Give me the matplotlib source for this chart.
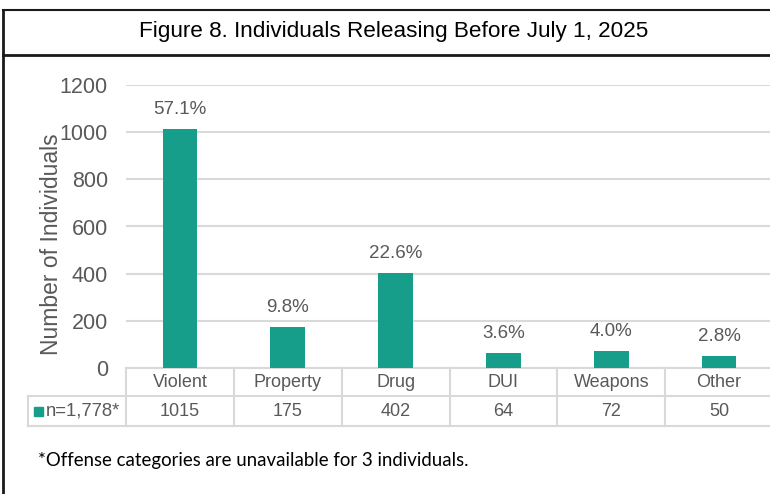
import matplotlib
matplotlib.use("Agg")
import matplotlib.pyplot as plt
from matplotlib.lines import Line2D
from matplotlib.patches import Rectangle
import matplotlib.transforms as mtransforms

categories = ["Violent", "Property", "Drug", "DUI", "Weapons", "Other"]
counts = [1015, 175, 402, 64, 72, 50]
pct_labels = ["57.1%", "9.8%", "22.6%", "3.6%", "4.0%", "2.8%"]
yticks = [0, 200, 400, 600, 800, 1000, 1200]
series_name = "n=1,778*"
title = "Figure 8. Individuals Releasing Before July 1, 2025"
ylabel = "Number of Individuals"
footnote = "*Offense categories are unavailable for 3 individuals."

W, H = 770, 494
BAR = "#169E8B"
GRID = "#D9D9D9"
TXT = "#595959"

plt.rcParams['font.family'] = ['Liberation Sans', 'DejaVu Sans']
fig = plt.figure(figsize=(W / 100, H / 100), dpi=100)

def fx(px):
    return px / W

def fy(py):
    return 1 - py / H

# axes: x 126..773 px, y 85..368 px
ax_l, ax_r, ax_t, ax_b = 126, 773, 85, 368
ax = fig.add_axes([fx(ax_l), fy(ax_b), fx(ax_r - ax_l), (ax_b - ax_t) / H])
x = list(range(len(categories)))
ax.bar(x, counts, width=0.32, color=BAR, zorder=3)
ax.set_xlim(-0.5, len(categories) - 0.5)
ax.set_ylim(0, 1200)
ax.set_yticks(yticks)
ax.set_yticklabels([str(v) for v in yticks], fontsize=15.5, color=TXT)
ax.tick_params(axis='y', length=0, pad=13)
ax.set_xticks([])
ax.yaxis.grid(True, color=GRID, linewidth=1.5, zorder=0)
for s in ax.spines.values():
    s.set_visible(False)
ax.set_ylabel(ylabel, fontsize=16.5, color=TXT, va='center')
ax.yaxis.set_label_coords((52 - ax_l) / (ax_r - ax_l), (ax_b - 244) / (ax_b - ax_t))

for xi, v, lab in zip(x, counts, pct_labels):
    ax.annotate(lab, (xi, v), xytext=(0, 8), textcoords='offset points',
                ha='center', va='bottom', fontsize=13.5, color=TXT)

# table below axis: x in data coords, y in pixel-derived axes coords
trans = mtransforms.blended_transform_factory(ax.transData, ax.transAxes)
ah = ax_b - ax_t
def ay(py):
    return (ax_b - py) / ah

row1_top, row1_bot, row2_bot = 368, 396, 426
left_px = 28
left_data = -0.5 - (ax_l - left_px) / ((ax_r - ax_l) / len(categories))

lw = 1.5
ax.add_line(Line2D([-0.5, len(categories) - 0.5], [ay(row1_top)] * 2, transform=trans,
                   color=GRID, lw=lw, clip_on=False))
ax.add_line(Line2D([left_data, len(categories) - 0.5], [ay(row1_bot)] * 2, transform=trans,
                   color=GRID, lw=lw, clip_on=False))
ax.add_line(Line2D([left_data, len(categories) - 0.5], [ay(row2_bot)] * 2, transform=trans,
                   color=GRID, lw=lw, clip_on=False))
for b in [i - 0.5 for i in range(len(categories) + 1)]:
    ax.add_line(Line2D([b, b], [ay(row1_top), ay(row2_bot)], transform=trans,
                       color=GRID, lw=lw, clip_on=False))
ax.add_line(Line2D([left_data, left_data], [ay(row1_bot), ay(row2_bot)], transform=trans,
                   color=GRID, lw=lw, clip_on=False))

r1c = ay((row1_top + row1_bot) / 2)
r2c = ay((row1_bot + row2_bot) / 2)
for xi, cat, v in zip(x, categories, counts):
    ax.text(xi, r1c, cat, transform=trans, ha='center', va='center',
            fontsize=13, color=TXT, clip_on=False)
    ax.text(xi, r2c, str(v), transform=trans, ha='center', va='center',
            fontsize=13, color=TXT, clip_on=False)

fig.patches.append(Rectangle((fx(34), fy(416)), 9 / W, 9 / H, transform=fig.transFigure,
                             color=BAR, figure=fig))
fig.text(fx(46), fy(411), series_name, ha='left', va='center', fontsize=13.3, color=TXT)

# outer border and title box
fig.add_artist(Line2D([fx(3), fx(3)], [fy(10), 0], transform=fig.transFigure,
                      color="#1a1a1a", lw=2))
fig.add_artist(Line2D([fx(3), 1], [fy(10), fy(10)], transform=fig.transFigure,
                      color="#1a1a1a", lw=1.5))
fig.add_artist(Line2D([fx(3), 1], [fy(55), fy(55)], transform=fig.transFigure,
                      color="#1a1a1a", lw=2))
fig.text(fx(394), fy(32), title, ha='center', va='center', fontsize=16.2, color='black')

fig.text(fx(38), fy(460), footnote, ha='left', va='center', fontsize=13.4,
         color='black', family=['Lato', 'DejaVu Sans'])

fig.savefig("out.png", dpi=100)
